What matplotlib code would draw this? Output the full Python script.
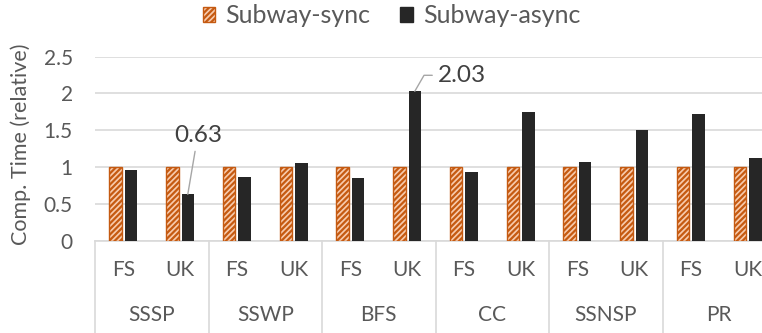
import matplotlib
matplotlib.use("Agg")
import matplotlib.pyplot as plt
import matplotlib.transforms as mtransforms
from matplotlib.patches import Patch
import numpy as np

plt.rcParams['font.family'] = ['Lato', 'DejaVu Sans']
plt.rcParams['hatch.linewidth'] = 1.6

algorithms = ["SSSP", "SSWP", "BFS", "CC", "SSNSP", "PR"]
graphs = ["FS", "UK"]
series_names = ["Subway-sync", "Subway-async"]
sync_vals = [1, 1, 1, 1, 1, 1, 1, 1, 1, 1, 1, 1]
async_vals = [0.96, 0.63, 0.87, 1.05, 0.85, 2.03, 0.94, 1.745, 1.07, 1.50, 1.72, 1.13]
yticks = [0, 0.5, 1, 1.5, 2, 2.5]
ytick_labels = ["0", "0.5", "1", "1.5", "2", "2.5"]
ylabel = "Comp. Time (relative)"

text_col = "#595959"
grid_col = "#d9d9d9"
sync_face = "#f8cbad"
sync_edge = "#c55a11"
async_col = "#262626"

fig = plt.figure(figsize=(7.62, 3.33), dpi=100)
ax = fig.add_axes([95 / 762, (333 - 240.7) / 333, 681 / 762, 184 / 333])

n = len(algorithms) * len(graphs)
x = np.arange(n)
w = 0.22
off = 0.135
ax.bar(x - off, sync_vals, width=w, facecolor=sync_face, edgecolor=sync_edge,
       hatch="//////", linewidth=1.0, zorder=3)
ax.bar(x + off, async_vals, width=w, color=async_col, zorder=3)

ax.set_xlim(-0.5, n - 0.5)
ax.set_ylim(0, 2.5)
ax.set_yticks(yticks)
ax.set_yticklabels(ytick_labels)
ax.yaxis.grid(True, color=grid_col, linewidth=1.2, zorder=0)
ax.set_axisbelow(True)
for s in ["left", "right", "top"]:
    ax.spines[s].set_visible(False)
ax.spines["bottom"].set_color(grid_col)
ax.spines["bottom"].set_linewidth(1.2)
ax.tick_params(axis="y", length=0, pad=16, labelsize=15, labelcolor=text_col)
ax.tick_params(axis="x", length=0, pad=14, labelsize=15, labelcolor=text_col)
ax.set_xticks(x)
ax.set_xticklabels([g for a in algorithms for g in graphs])

trans = mtransforms.blended_transform_factory(ax.transData, ax.transAxes)
for i, a in enumerate(algorithms):
    ax.text(2 * i + 0.5, -0.405, a, transform=trans, ha="center", va="center",
            fontsize=15, color=text_col)
for b in range(len(algorithms) + 1):
    ax.plot([2 * b - 0.5, 2 * b - 0.5], [0, -0.6], transform=trans, color=grid_col,
            linewidth=1.2, clip_on=False)

ax.set_ylabel(ylabel, fontsize=15.5, color=text_col)
ax.yaxis.set_label_coords(-64 / 681, 0.525)

# annotations
i1 = 1
ax.annotate(f"{async_vals[i1]:.2f}", xy=(x[i1] + off, async_vals[i1]),
            xytext=(10, 59), textcoords="offset pixels", ha="center", va="center",
            fontsize=17.5, color="#404040",
            arrowprops=dict(arrowstyle="-", color="#a6a6a6", linewidth=1.0,
                            shrinkA=2, shrinkB=0))
i2 = 5
ax.annotate(f"{async_vals[i2]:.2f}", xy=(x[i2] + off, async_vals[i2]),
            xytext=(23, 16), textcoords="offset pixels", ha="left", va="center",
            fontsize=17.5, color="#404040",
            arrowprops=dict(arrowstyle="-", color="#a6a6a6", linewidth=1.0,
                            shrinkA=2, shrinkB=0,
                            connectionstyle="angle,angleA=0,angleB=60,rad=0"))

handles = [Patch(facecolor=sync_face, edgecolor=sync_edge, hatch="//////"),
           Patch(facecolor=async_col, edgecolor=async_col)]
fig.legend(handles, series_names, loc="center", bbox_to_anchor=(0.514, 0.952),
           ncol=2, frameon=False, fontsize=18, labelcolor=text_col,
           handlelength=0.5, handleheight=0.5, handletextpad=0.4, columnspacing=1.2)

fig.savefig("out.png", dpi=100)
